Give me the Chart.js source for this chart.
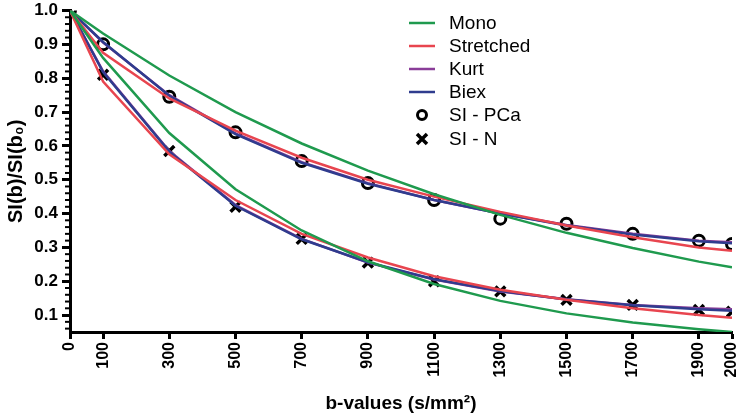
<html lang="en">
<head>
    <meta charset="utf-8"/>
    <title>SI decay curves</title>
    <script src="https://cdn.jsdelivr.net/npm/chart.js"></script>
    <style>
        html, body { margin: 0; padding: 0; background: #fff; }
        #wrap { width: 749px; height: 419px; }
    </style>
</head>
<body>
<div id="wrap"><canvas id="siChart" width="749" height="419"></canvas></div>
<script>
    // b-values (s/mm2)
    const bValues = [0, 100, 300, 500, 700, 900, 1100, 1300, 1500, 1700, 1900, 2000];
    const xTicks = [0, 100, 300, 500, 700, 900, 1100, 1300, 1500, 1700, 1900, 2000];
    const yTicks = [0.1, 0.2, 0.3, 0.4, 0.5, 0.6, 0.7, 0.8, 0.9, 1.0];

    // measured signal
    const siPCa = [1.0, 0.90, 0.745, 0.64, 0.555, 0.49, 0.44, 0.385, 0.37, 0.34, 0.32, 0.31];
    const siN   = [1.0, 0.81, 0.585, 0.42, 0.325, 0.255, 0.20, 0.17, 0.145, 0.13, 0.115, 0.11];

    // model fits, PCa
    const monoPCa      = [1.0, 0.932, 0.808, 0.70, 0.607, 0.527, 0.457, 0.396, 0.343, 0.298, 0.258, 0.241];
    const stretchedPCa = [1.0, 0.875, 0.74, 0.645, 0.565, 0.50, 0.45, 0.405, 0.365, 0.33, 0.30, 0.29];
    const kurtPCa      = [1.0, 0.905, 0.75, 0.637, 0.552, 0.49, 0.44, 0.40, 0.366, 0.34, 0.32, 0.315];
    const biexPCa      = [1.0, 0.907, 0.748, 0.635, 0.55, 0.488, 0.44, 0.40, 0.365, 0.338, 0.318, 0.312];

    // model fits, normal tissue
    const monoN      = [1.0, 0.86, 0.638, 0.472, 0.35, 0.259, 0.192, 0.142, 0.105, 0.078, 0.058, 0.05];
    const stretchedN = [1.0, 0.79, 0.575, 0.44, 0.34, 0.27, 0.215, 0.175, 0.145, 0.12, 0.10, 0.092];
    const kurtN      = [1.0, 0.82, 0.585, 0.425, 0.325, 0.255, 0.205, 0.17, 0.147, 0.13, 0.12, 0.117];
    const biexN      = [1.0, 0.818, 0.583, 0.423, 0.324, 0.256, 0.206, 0.171, 0.146, 0.129, 0.117, 0.113];

    const GREEN = '#1f9a4e', RED = '#e8454f', PURPLE = '#8a3d98', BLUE = '#2f3c8e';

    const legendItems = [
        { label: 'Mono', color: GREEN, kind: 'line' },
        { label: 'Stretched', color: RED, kind: 'line' },
        { label: 'Kurt', color: PURPLE, kind: 'line' },
        { label: 'Biex', color: BLUE, kind: 'line' },
        { label: 'SI - PCa', color: '#000', kind: 'circle' },
        { label: 'SI - N', color: '#000', kind: 'cross' }
    ];

    const toXY = arr => arr.map((v, i) => ({ x: bValues[i], y: v }));

    function fitLine(data, color) {
        return {
            data: toXY(data), showLine: true, borderColor: color, backgroundColor: color,
            borderWidth: 2.5, pointRadius: 0, tension: 0, fill: false
        };
    }

    // minor ticks on the y axis + legend
    const extras = {
        id: 'extras',
        afterDraw(chart) {
            const ctx = chart.ctx;
            const y = chart.scales.y;
            ctx.save();
            ctx.strokeStyle = '#000';
            ctx.lineWidth = 2;
            for (let v = 6; v < 100; v += 2) {
                if (v % 10 === 0) continue;
                const py = y.getPixelForValue(v / 100);
                ctx.beginPath();
                ctx.moveTo(y.right - 5, py);
                ctx.lineTo(y.right, py);
                ctx.stroke();
            }
            // legend
            const rowY = [23, 46, 69, 92, 115, 139];
            ctx.font = '19px Arial, "Liberation Sans", sans-serif';
            ctx.textBaseline = 'middle';
            legendItems.forEach((it, i) => {
                const cy = rowY[i];
                ctx.strokeStyle = it.color;
                if (it.kind === 'line') {
                    ctx.lineWidth = 2.5;
                    ctx.beginPath();
                    ctx.moveTo(409, cy);
                    ctx.lineTo(435, cy);
                    ctx.stroke();
                } else if (it.kind === 'circle') {
                    ctx.lineWidth = 3;
                    ctx.beginPath();
                    ctx.arc(422, cy, 4.5, 0, Math.PI * 2);
                    ctx.stroke();
                } else {
                    ctx.lineWidth = 3.5;
                    ctx.beginPath();
                    ctx.moveTo(417, cy - 5); ctx.lineTo(427, cy + 5);
                    ctx.moveTo(427, cy - 5); ctx.lineTo(417, cy + 5);
                    ctx.stroke();
                }
                ctx.fillStyle = '#000';
                ctx.fillText(it.label, 449, cy + 1);
            });
            ctx.restore();
        }
    };

    new Chart(document.getElementById('siChart'), {
        type: 'scatter',
        data: {
            datasets: [
                fitLine(monoPCa, GREEN), fitLine(monoN, GREEN),
                fitLine(stretchedPCa, RED), fitLine(stretchedN, RED),
                fitLine(biexPCa, BLUE), fitLine(biexN, BLUE),
                fitLine(kurtPCa, PURPLE), fitLine(kurtN, PURPLE),
                {
                    data: toXY(siPCa), showLine: false, pointStyle: 'circle',
                    pointRadius: 5.5, borderWidth: 3, borderColor: '#000', backgroundColor: 'rgba(0,0,0,0)'
                },
                {
                    data: toXY(siN), showLine: false, pointStyle: 'crossRot',
                    pointRadius: 7, borderWidth: 3.5, borderColor: '#000', backgroundColor: '#000'
                }
            ]
        },
        options: {
            responsive: false,
            animation: false,
            layout: { padding: { top: 0, right: 17, left: 0, bottom: 4 } },
            plugins: { legend: { display: false }, tooltip: { enabled: false } },
            scales: {
                x: {
                    type: 'linear', min: 0, max: 2000,
                    afterBuildTicks: s => { s.ticks = xTicks.map(v => ({ value: v })); },
                    afterFit: s => { s.height = 83; s.paddingRight = 0; s.paddingLeft = 0; },
                    border: { width: 3, color: '#000' },
                    grid: { drawOnChartArea: false, drawTicks: true, tickLength: 7, tickWidth: 3, tickColor: '#000' },
                    ticks: {
                        minRotation: 90, maxRotation: 90, padding: 3, color: '#000',
                        callback: v => String(v),
                        font: { family: 'Arial, "Liberation Sans", sans-serif', size: 16, weight: 'bold' }
                    },
                    title: {
                        display: true, text: 'b-values (s/mm²)', color: '#000', padding: { top: 0, bottom: 0 },
                        font: { family: 'Arial, "Liberation Sans", sans-serif', size: 19, weight: 'bold' }
                    }
                },
                y: {
                    type: 'linear', min: 0.05, max: 1.0,
                    afterBuildTicks: s => { s.ticks = yTicks.map(v => ({ value: v })); },
                    afterFit: s => { s.width = 70; s.paddingTop = 10; s.paddingBottom = 0; },
                    border: { width: 3, color: '#000' },
                    grid: { drawOnChartArea: false, drawTicks: true, tickLength: 8, tickWidth: 3, tickColor: '#000' },
                    ticks: {
                        padding: 4, color: '#000', callback: v => v.toFixed(1),
                        font: { family: 'Arial, "Liberation Sans", sans-serif', size: 17, weight: 'bold' }
                    },
                    title: {
                        display: true, text: 'SI(b)/SI(b₀)', color: '#000', padding: { top: 4, bottom: 0 },
                        font: { family: 'Arial, "Liberation Sans", sans-serif', size: 20, weight: 'bold' }
                    }
                }
            }
        },
        plugins: [extras]
    });
</script>
</body>
</html>
